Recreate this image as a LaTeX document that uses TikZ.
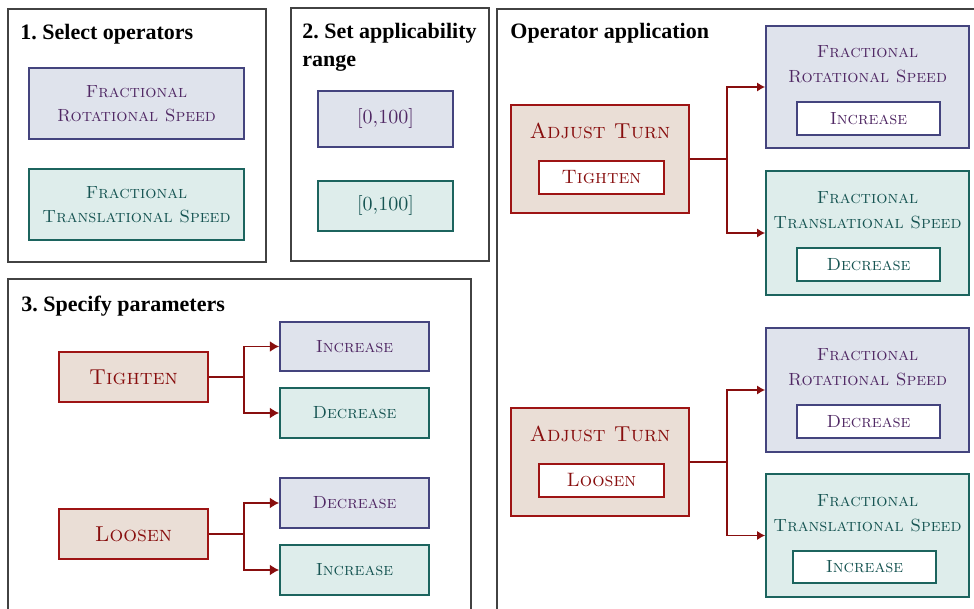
\documentclass[tikz,border=0pt]{standalone}
\usepackage{fontspec}
\newfontfamily\headfont{Liberation Serif}
\usetikzlibrary{arrows.meta}

% palette
\definecolor{rotfill}{RGB}{223,227,236}
\definecolor{rotdraw}{RGB}{68,68,126}
\definecolor{rottext}{RGB}{80,40,100}
\definecolor{trafill}{RGB}{222,237,235}
\definecolor{tradraw}{RGB}{28,100,94}
\definecolor{tratext}{RGB}{22,84,82}
\definecolor{adjfill}{RGB}{234,222,214}
\definecolor{adjdraw}{RGB}{158,20,20}
\definecolor{adjtext}{RGB}{136,14,14}
\definecolor{framecol}{RGB}{66,66,66}

\frenchspacing
\begin{document}
\begin{tikzpicture}[x=0.5pt,y=-0.5pt,
  panel/.style={draw=framecol, line width=0.7pt, inner sep=0pt},
  heading/.style={font=\headfont\bfseries\fontsize{11}{14}\selectfont, inner sep=0pt, align=left, text=black},
  sc/.style={font=\fontsize{8.8}{12.25}\selectfont\scshape, align=center},
  scmid/.style={font=\fontsize{9.7}{12}\selectfont\scshape, align=center},
  scbig/.style={font=\fontsize{10.8}{13}\selectfont\scshape, align=center},
  rotbox/.style={draw=rotdraw, fill=rotfill, text=rottext, line width=0.85pt, inner sep=0pt},
  trabox/.style={draw=tradraw, fill=trafill, text=tratext, line width=0.85pt, inner sep=0pt},
  adjbox/.style={draw=adjdraw, fill=adjfill, text=adjtext, line width=0.85pt, inner sep=0pt},
  valbox/.style={fill=white, line width=0.85pt, inner sep=0pt, minimum width=71.5pt, minimum height=16.5pt},
  link/.style={draw=adjtext, line width=0.8pt},
  conn/.style={link, -{Latex[length=4pt,width=4.6pt]}},
  connbig/.style={link, -{Latex[length=4.6pt,width=5.4pt]}}
]
\clip (0,0) rectangle (974,609);
\fill[white] (0,0) rectangle (974,609);

% ---------- panel 1: operator selection ----------
\node[panel, minimum width=129pt, minimum height=126.5pt] (p1) at (137,135.5) {};
\node[heading, anchor=base west] (h1) at (20,40) {1. Select operators};
\node[rotbox, sc, minimum width=107.5pt, minimum height=35.5pt] (selrot) at (136.5,103.5) {Fractional\\Rotational Speed};
\node[trabox, sc, minimum width=107.5pt, minimum height=35.5pt] (seltra) at (136.5,204.5) {Fractional\\Translational Speed};

% ---------- panel 2: applicability range ----------
\node[panel, minimum width=99pt, minimum height=126.5pt] (p2) at (390,134.5) {};
\node[heading, anchor=north west] (h2) at (302,22.5) {2. Set applicability\\range};
\node[rotbox, font=\fontsize{10}{12}\selectfont, minimum width=67.5pt, minimum height=28pt] (rngrot) at (385.5,119) {[0,100]};
\node[trabox, font=\fontsize{10}{12}\selectfont, minimum width=67.5pt, minimum height=25pt] (rngtra) at (385.5,206) {[0,100]};

% ---------- panel 3: parameters ----------
\node[panel, minimum width=231.5pt, minimum height=173pt] (p3) at (239.5,452) {};
\node[heading, anchor=base west] (h3) at (21,311) {3. Specify parameters};

\node[adjbox, scbig, minimum width=74.5pt, minimum height=25pt] (tight) at (133.5,377) {Tighten};
\node[rotbox, sc, minimum width=74.5pt, minimum height=24.5pt] (tinc) at (354.5,346.5) {Increase};
\node[trabox, sc, minimum width=74.5pt, minimum height=25pt] (tdec) at (354.5,413) {Decrease};
\coordinate (tfork) at (244,377);
\draw[link] (tight.east) -- (tfork);
\draw[connbig] (tfork) |- (tinc.west);
\draw[connbig] (tfork) |- (tdec.west);

\node[adjbox, scbig, minimum width=74.5pt, minimum height=25pt] (loose) at (133.5,534) {Loosen};
\node[rotbox, sc, minimum width=74.5pt, minimum height=25pt] (ldec) at (354.5,503) {Decrease};
\node[trabox, sc, minimum width=74.5pt, minimum height=25pt] (linc) at (354.5,570) {Increase};
\coordinate (lfork) at (244,534);
\draw[link] (loose.east) -- (lfork);
\draw[connbig] (lfork) |- (ldec.west);
\draw[connbig] (lfork) |- (linc.west);

% ---------- panel 4: operator application ----------
\node[panel, minimum width=246.5pt, minimum height=308pt] (p4) at (743.5,317) {};
\node[heading, anchor=base west] (h4) at (510,39) {Operator application};

% tighten branch
\node[adjbox, minimum width=89pt, minimum height=54pt] (adjA) at (600,159) {};
\node[scbig, text=adjtext] (adjAt) at (600,130.5) {Adjust Turn};
\node[valbox, draw=adjdraw, text=adjtext, scmid, minimum width=62.5pt] (adjAv) at (601.5,177.5) {Tighten};

\node[rotbox, minimum width=101.5pt, minimum height=61pt] (appArot) at (867.5,87) {};
\node[sc, text=rottext] (appArott) at (867.5,64) {Fractional\\Rotational Speed};
\node[valbox, draw=rotdraw, text=rottext, sc] (appArotv) at (868.5,118.5) {Increase};

\node[trabox, minimum width=101.5pt, minimum height=62pt] (appAtra) at (867.5,233) {};
\node[sc, text=tratext] (appAtrat) at (867.5,210) {Fractional\\Translational Speed};
\node[valbox, draw=tradraw, text=tratext, sc] (appAtrav) at (868.5,264.5) {Decrease};

\coordinate (afork) at (727,159);
\draw[link] (adjA.east) -- (afork);
\draw[conn] (afork) |- (appArot.west);
\draw[conn] (afork) |- (appAtra.west);

% loosen branch
\node[adjbox, minimum width=89pt, minimum height=54pt] (adjB) at (600,462) {};
\node[scbig, text=adjtext] (adjBt) at (600,433.5) {Adjust Turn};
\node[valbox, draw=adjdraw, text=adjtext, scmid, minimum width=62.5pt] (adjBv) at (601.5,480.5) {Loosen};

\node[rotbox, minimum width=101.5pt, minimum height=62pt] (appBrot) at (867.5,390) {};
\node[sc, text=rottext] (appBrott) at (867.5,367) {Fractional\\Rotational Speed};
\node[valbox, draw=rotdraw, text=rottext, sc] (appBrotv) at (868.5,421.5) {Decrease};

\node[trabox, minimum width=101.5pt, minimum height=61.5pt] (appBtra) at (867.5,535.5) {};
\node[sc, text=tratext] (appBtrat) at (867.5,513) {Fractional\\Translational Speed};
\node[valbox, draw=tradraw, text=tratext, sc, minimum height=16pt] (appBtrav) at (864.5,567) {Increase};

\coordinate (bfork) at (727,462);
\draw[link] (adjB.east) -- (bfork);
\draw[conn] (bfork) |- (appBrot.west);
\draw[conn] (bfork) |- (appBtra.west);
\end{tikzpicture}
\end{document}
